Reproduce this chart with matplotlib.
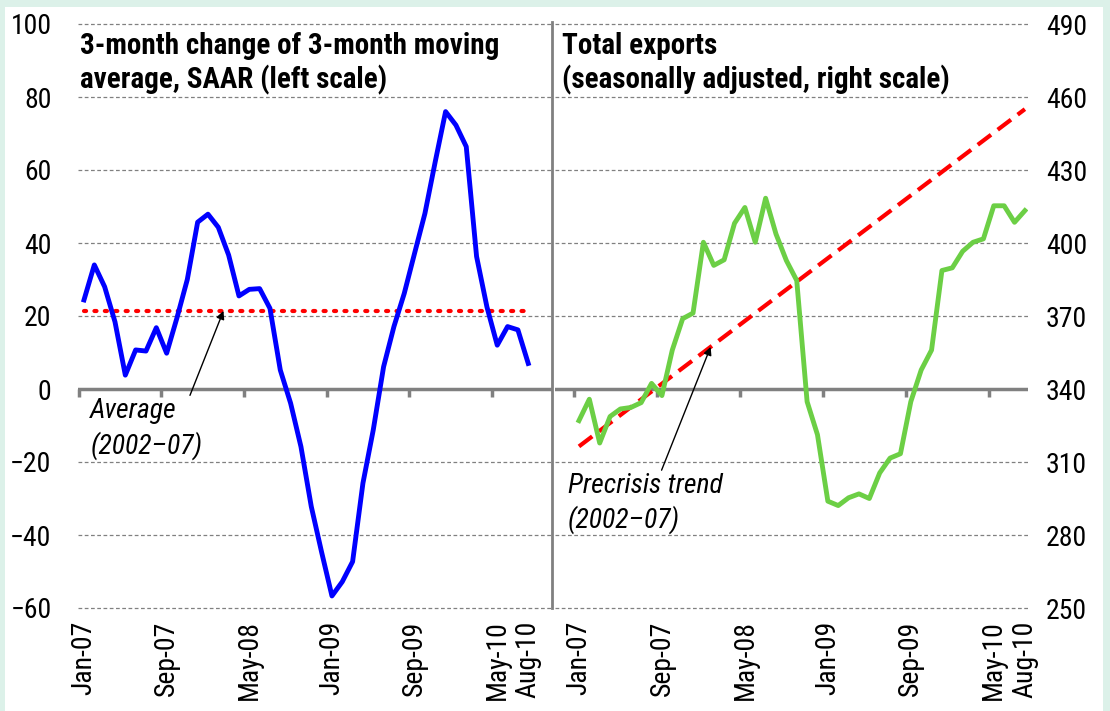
import matplotlib
matplotlib.use("Agg")
import matplotlib.pyplot as plt
from matplotlib import font_manager
from matplotlib.patches import Rectangle
import numpy as np

# pick a narrow sans if one is installed
fonts = font_manager.fontManager.ttflist
names = {f.name for f in fonts}
family = 'Liberation Sans'
stretch = 'normal'
for cand in ['Liberation Sans Narrow', 'Roboto Condensed', 'Open Sans Condensed', 'DejaVu Sans Condensed']:
    if cand in names:
        family = cand
        break
else:
    if any(f.name == 'DejaVu Sans' and f.stretch == 'condensed' for f in fonts):
        family, stretch = 'DejaVu Sans', 'condensed'
plt.rcParams['font.family'] = [family, 'DejaVu Sans']
plt.rcParams['font.stretch'] = stretch
narrow = family != 'Liberation Sans'
fs = 20 if narrow else 16

# monthly data, Jan-07 .. Aug-10
saar = [24.4, 34.0, 28.0, 18.4, 3.8, 10.7, 10.4, 16.8, 9.8, 19.5,
        30.0, 45.7, 47.9, 44.3, 36.7, 25.5, 27.3, 27.5, 22.1, 5.2,
        -3.9, -15.8, -32.2, -44.7, -56.7, -52.8, -47.3, -25.8, -11.2, 6.1,
        17.1, 26.2, 37.2, 48.1, 62.3, 76.0, 72.3, 66.4, 36.3, 22.5,
        12.0, 17.1, 16.2, 7.0]
exports = [327.0, 335.8, 317.8, 328.7, 331.8, 332.4, 334.4, 342.3, 337.3, 356.0,
           368.9, 371.2, 400.3, 390.8, 393.1, 408.1, 414.6, 400.3, 418.4, 403.7,
           392.8, 384.6, 334.8, 321.2, 293.9, 292.1, 295.3, 296.9, 295.0, 305.5,
           311.6, 313.4, 334.8, 347.8, 356.0, 388.7, 389.8, 396.6, 400.3, 401.7,
           415.3, 415.3, 408.5, 413.3]
avg_2002_07 = 21.4
trend_start = 316.4
trend_end = 455.0

tick_pos = [0, 8, 16, 24, 32, 40, 43]
tick_labels = ['Jan-07', 'Sep-07', 'May-08', 'Jan-09', 'Sep-09', 'May-10', 'Aug-10']
mark_pos = [-0.5, 7.5, 15.5, 23.5, 31.5, 39.5]

left_ticks = [-60, -40, -20, 0, 20, 40, 60, 80, 100]
right_ticks = [250, 280, 310, 340, 370, 400, 430, 460, 490]

W, H = 1110, 711
fig = plt.figure(figsize=(W / 100, H / 100), dpi=100, facecolor='#dcf1e9')
fig.patches.append(Rectangle((5 / W, 0), 1 - 12 / W, 1 - 7 / H, transform=fig.transFigure,
                             facecolor='white', edgecolor='none', zorder=-5))

bot = 1 - 608 / H
hgt = (608 - 24) / H
ax1 = fig.add_axes([78 / W, bot, (552 - 78) / W, hgt])
ax2 = fig.add_axes([555 / W, bot, (1028 - 555) / W, hgt])

n = len(saar)
x = np.arange(n)
grey = '#808080'

for ax, ticks, lim in [(ax1, left_ticks, (-0.58, 45.3)), (ax2, right_ticks, (-2.31, 43.3))]:
    ax.set_facecolor('none')
    for s in ax.spines.values():
        s.set_visible(False)
    ax.set_ylim(ticks[0], ticks[-1])
    ax.set_yticks(ticks)
    ax.set_xlim(*lim)
    zero = ticks[3]
    for t in ticks:
        if t != zero:
            ax.axhline(t, color=grey, lw=0.9, ls=(0, (3, 2)), zorder=1, clip_on=False)
    ax.axhline(zero, color=grey, lw=2.5, zorder=2)
    ax.set_xticks(tick_pos)
    ax.set_xticklabels(tick_labels, rotation=90, fontsize=fs)
    ax.tick_params(axis='x', length=0, pad=9)
    for m in mark_pos:
        ax.plot([m, m], [zero, zero - (ticks[1] - ticks[0]) * 0.115], color=grey, lw=2.5,
                zorder=2, clip_on=False, solid_capstyle='butt')

ax1.tick_params(axis='y', length=0, pad=19, labelsize=fs)
ax2.yaxis.tick_right()
ax2.tick_params(axis='y', length=0, pad=13, labelsize=fs)

# left panel
ax1.plot(x, saar, color='#0000ff', lw=3.5, zorder=4)
ax1.plot([0, n - 1], [avg_2002_07, avg_2002_07], color='#ff0000', lw=3,
         ls=(0, (0.5, 2.0)), dash_capstyle='round', zorder=3)

# right panel
ax2.plot(x, exports, color='#6ccf45', lw=3.5, zorder=4)
ax2.plot([0, n - 1], [trend_start, trend_end], color='#ff0000', lw=3,
         ls=(0, (4.0, 2.0)), zorder=3, clip_on=False)

# divider
fig.add_artist(plt.Line2D([552 / W, 552 / W], [bot, 1 - 22 / H], color=grey, lw=2))

tfs = fs + 1
fig.text(80 / W, 1 - 32 / H, '3-month change of 3-month moving\naverage, SAAR (left scale)',
         fontsize=tfs, fontweight='bold', va='top', ha='left', linespacing=1.2)
fig.text(562 / W, 1 - 32 / H, 'Total exports\n(seasonally adjusted, right scale)',
         fontsize=tfs, fontweight='bold', va='top', ha='left', linespacing=1.2)

ax1.annotate('Average\n(2002\u201307)', xy=(13.5, avg_2002_07), xytext=(0.6, -2.5),
             fontsize=fs, style='italic', va='top', ha='left', linespacing=1.3,
             arrowprops=dict(arrowstyle='-|>', color='black', lw=1, mutation_scale=12,
                             shrinkA=0, shrinkB=0, relpos=(0.88, 1.0)))
ax2.annotate('Precrisis trend\n(2002\u201307)', xy=(12.7, trend_start + (trend_end - trend_start) * 12.7 / 43),
             xytext=(-1.1, 305.5), fontsize=fs, style='italic', va='top', ha='left',
             linespacing=1.3,
             arrowprops=dict(arrowstyle='-|>', color='black', lw=1, mutation_scale=12,
                             shrinkA=0, shrinkB=0, relpos=(0.6, 1.0)))

fig.savefig('out.png', dpi=100, facecolor=fig.get_facecolor())
